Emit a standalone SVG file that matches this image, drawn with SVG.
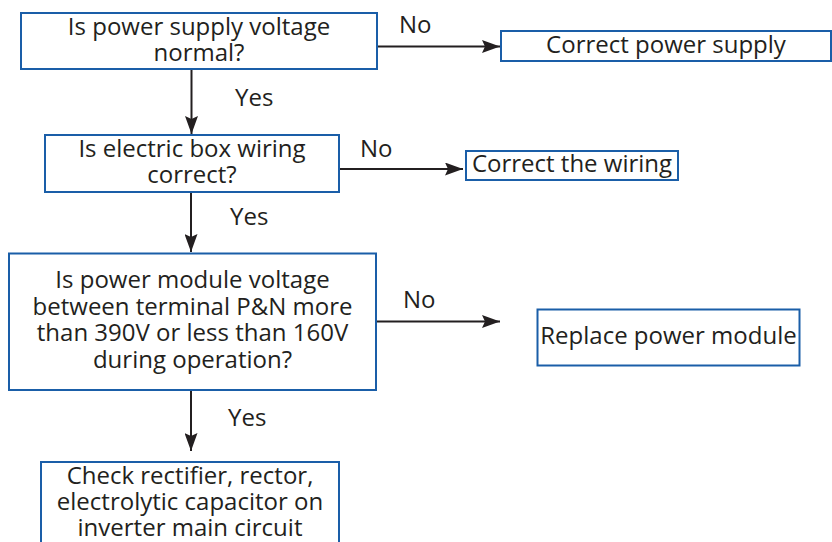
<svg xmlns="http://www.w3.org/2000/svg" width="832" height="542" viewBox="0 0 832 542">
<style>
.box{fill:#fff;stroke:#1a5ea8;stroke-width:2}
.t{font-family:"Open Sans","Liberation Sans",sans-serif;font-size:24px;fill:#231f20}
.m{text-anchor:middle}
.c{fill:none;stroke:#231f20;stroke-width:2}
</style>
<defs>
<marker id="ah" viewBox="0 0 18 13" refX="18" refY="6.5" markerWidth="18" markerHeight="13" markerUnits="userSpaceOnUse" orient="auto">
<path d="M0,0 L18,6.5 L0,13 L3,6.5 Z" fill="#231f20"/>
</marker>
</defs>
<rect width="832" height="542" fill="#fff"/>
<g id="connectors">
<line class="c" x1="191.5" y1="70" x2="191.5" y2="134" marker-end="url(#ah)"/>
<line class="c" x1="377" y1="46.5" x2="500" y2="46.5" marker-end="url(#ah)"/>
<line class="c" x1="339" y1="169" x2="463" y2="169" marker-end="url(#ah)"/>
<line class="c" x1="191" y1="193" x2="191" y2="252" marker-end="url(#ah)"/>
<line class="c" x1="376" y1="321.5" x2="500" y2="321.5" marker-end="url(#ah)"/>
<line class="c" x1="191" y1="391" x2="191" y2="451" marker-end="url(#ah)"/>
<text class="t" x="235" y="106">Yes</text>
<text class="t" x="399" y="33">No</text>
<text class="t" x="360" y="157">No</text>
<text class="t" x="230" y="225">Yes</text>
<text class="t" x="403" y="308">No</text>
<text class="t" x="228" y="426">Yes</text>
</g>
<g id="n1">
<rect class="box" x="21" y="13" width="356" height="56"/>
<text class="t m" x="199" y="35">Is power supply voltage</text>
<text class="t m" x="199" y="61">normal?</text>
</g>
<g id="n2">
<rect class="box" x="501" y="31" width="330" height="30"/>
<text class="t m" x="666" y="52.5">Correct power supply</text>
</g>
<g id="n3">
<rect class="box" x="45" y="135" width="294" height="57"/>
<text class="t m" x="192" y="157">Is electric box wiring</text>
<text class="t m" x="192" y="183">correct?</text>
</g>
<g id="n4">
<rect class="box" x="466" y="151" width="212" height="29"/>
<text class="t m" x="572" y="172">Correct the wiring</text>
</g>
<g id="n5">
<rect class="box" x="9" y="253.5" width="367" height="136.5"/>
<text class="t m" x="192.5" y="288">Is power module voltage</text>
<text class="t m" x="192.5" y="314.5">between terminal P&amp;N more</text>
<text class="t m" x="192.5" y="341">than 390V or less than 160V</text>
<text class="t m" x="192.5" y="367.5">during operation?</text>
</g>
<g id="n6">
<rect class="box" x="537.5" y="309.5" width="262" height="56"/>
<text class="t m" x="668.5" y="343.5">Replace power module</text>
</g>
<g id="n7">
<rect class="box" x="41" y="462" width="298" height="100"/>
<text class="t m" x="190" y="483.5">Check rectifier, rector,</text>
<text class="t m" x="190" y="509.5">electrolytic capacitor on</text>
<text class="t m" x="190" y="536">inverter main circuit</text>
</g>
</svg>
